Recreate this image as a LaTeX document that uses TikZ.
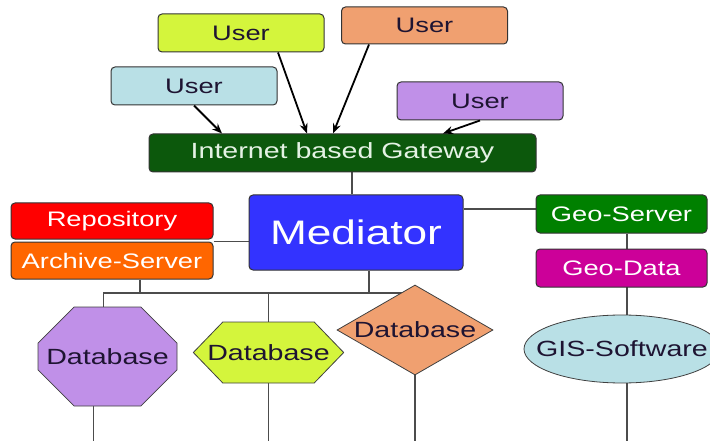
\documentclass[tikz,border=0pt]{standalone}
\usepackage{fontspec}
\setmainfont{Liberation Sans}[FakeStretch=1.3]
\usepackage{tikz}
\usetikzlibrary{positioning}
\usetikzlibrary{shapes.misc}
\usetikzlibrary{shapes.geometric}
\usetikzlibrary{shapes.symbols}
\usetikzlibrary{arrows.meta}
\pgfdeclarelayer{background}
\pgfsetlayers{background,main}

\definecolor{cyanUser}{RGB}{185,224,230}
\definecolor{limeUser}{RGB}{212,245,60}
\definecolor{orangeUser}{RGB}{240,160,112}
\definecolor{purpleUser}{RGB}{192,144,232}
\definecolor{gatewayGreen}{RGB}{12,88,12}
\definecolor{repoRed}{RGB}{255,0,0}
\definecolor{archiveOrange}{RGB}{255,102,0}
\definecolor{mediatorBlue}{RGB}{51,51,255}
\definecolor{geoGreen}{RGB}{0,128,0}
\definecolor{geoMagenta}{RGB}{204,0,153}
\definecolor{darkText}{RGB}{30,20,50}
\definecolor{lightText}{RGB}{228,242,228}

\begin{document}
\begin{tikzpicture}
	[x=1pt,y=-1pt,
	boxstyle/.style={rectangle,rounded corners=4pt,draw=black!80,line width=1pt,inner sep=0pt,minimum width=166pt,minimum height=38pt,font=\fontsize{21}{21}\selectfont},
	userstyle/.style={boxstyle,text=darkText},
	whitestyle/.style={boxstyle,text=white},
	dbstyle/.style={draw=black!75,line width=0.8pt,inner sep=0pt,font=\fontsize{22}{22}\selectfont,text=darkText},
	linkstyle/.style={draw=black!70,line width=1.5pt},
	arrowstyle/.style={draw=black,line width=1.8pt,-{Stealth[length=10pt,width=8pt]}}
	]
	
	%Set params
	\def\stackgap{2pt}
	\def\geogap{15pt}
	
	\useasboundingbox (0,0) rectangle (710,441);
	\clip (0,0) rectangle (710,441);
	
	%Users
	\node(UserCyan)[userstyle,fill=cyanUser] at (194,86){User};
	\node(UserLime)[userstyle,fill=limeUser] at (241,33){User};
	\node(UserOrange)[userstyle,fill=orangeUser,minimum height=37pt] at (424.5,25.5){User};
	\node(UserPurple)[userstyle,fill=purpleUser] at (480,101){User};
	\node(Gateway)[boxstyle,fill=gatewayGreen,text=lightText,minimum width=387pt,font=\fontsize{22}{22}\selectfont] at (342.5,153){Internet based Gateway};
	
	%Middle row
	\node(Repo)[whitestyle,fill=repoRed,minimum width=202pt,minimum height=36pt] at (112,221){Repository};
	\node(Archive)[whitestyle,fill=archiveOrange,minimum width=202pt,minimum height=37pt,below = \stackgap of Repo]{Archive-Server};
	\node(Mediator)[whitestyle,fill=mediatorBlue,minimum width=214pt,minimum height=75pt,font=\fontsize{34}{34}\selectfont] at (356,232.5){Mediator};
	\node(GeoServer)[whitestyle,fill=geoGreen,minimum width=171pt] at (621.5,214){Geo-Server};
	\node(GeoData)[whitestyle,fill=geoMagenta,minimum width=171pt,below = \geogap of GeoServer]{Geo-Data};
	
	%Databases
	\node(DBoct)[dbstyle,chamfered rectangle,chamfered rectangle xsep=35pt,chamfered rectangle ysep=28pt,minimum width=139pt,minimum height=99pt,fill=purpleUser] at (107.5,356.5){Database};
	\node(DBhex)[dbstyle,signal,signal to=west and east,signal pointer angle=92,inner xsep=-15.5pt,minimum height=61pt,fill=limeUser] at (268.5,352.5){Database};
	\node(DBdia)[dbstyle,diamond,aspect=1.73,minimum width=156pt,minimum height=90pt,fill=orangeUser] at (415,330){Database};
	\node(GIS)[dbstyle,ellipse,inner xsep=-17pt,minimum width=196pt,minimum height=68pt,fill=cyanUser] at (622,349){GIS-Software};
	
	\coordinate(Bus) at (0,293);
	\coordinate(Bottom) at (0,445);
	
	\begin{pgfonlayer}{background}
	\draw[linkstyle] ([xshift=-4pt]Mediator.north) -- ([xshift=-4pt]Mediator.north |- Gateway.south);
	\draw[linkstyle] (Archive.north east) -- (Archive.north east -| Mediator.west);
	\draw[linkstyle] ([yshift=5pt]GeoServer.west) -- ([yshift=5pt]GeoServer.west -| Mediator.east);
	\draw[linkstyle] ([xshift=5pt]GIS.north) -- ([xshift=5pt]GIS.north |- GeoServer.south);
	
	%Bus to databases
	\draw[linkstyle] ([xshift=28pt]Archive.south) -- ([xshift=28pt]Archive.south |- Bus);
	\draw[linkstyle] ([xshift=13pt]Mediator.south) -- ([xshift=13pt]Mediator.south |- Bus);
	\draw[linkstyle] ([xshift=-4pt]DBoct.north) |- (DBdia.center |- Bus);
	\draw[linkstyle] (DBhex.north) -- (DBhex.north |- Bus);
	
	%Down to bottom edge
	\draw[linkstyle] ([xshift=-14pt]DBoct.south) -- ([xshift=-14pt]DBoct.south |- Bottom);
	\draw[linkstyle] (DBhex.south) -- (DBhex.south |- Bottom);
	\draw[linkstyle] (DBdia.south) -- (DBdia.south |- Bottom);
	\draw[linkstyle] ([xshift=5pt]GIS.south) -- ([xshift=5pt]GIS.south |- Bottom);
	\end{pgfonlayer}
	
	%Users to gateway
	\draw[arrowstyle] (UserCyan.south) -- ([xshift=-120.5pt]Gateway.north);
	\draw[arrowstyle] ([xshift=37pt]UserLime.south) -- ([xshift=-35.5pt]Gateway.north);
	\draw[arrowstyle] ([xshift=-55.5pt]UserOrange.south) -- ([xshift=-9.5pt]Gateway.north);
	\draw[arrowstyle] (UserPurple.south) -- ([xshift=100.5pt]Gateway.north);
	
\end{tikzpicture}
\end{document}
